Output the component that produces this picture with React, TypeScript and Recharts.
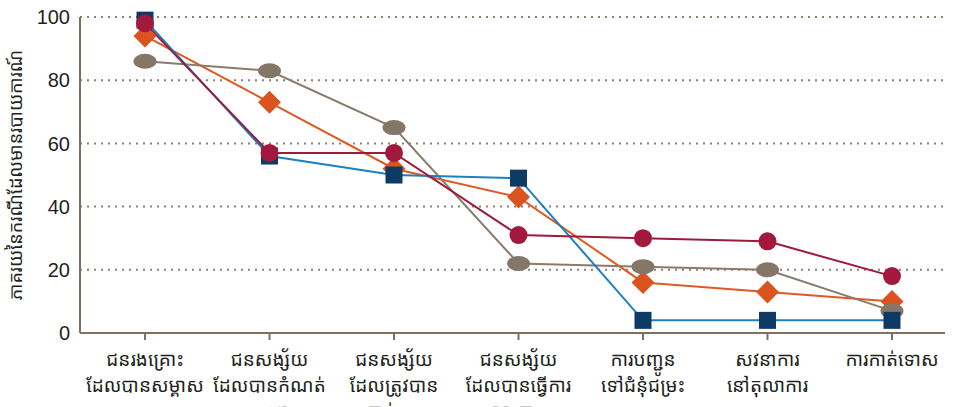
import { LineChart, Line, XAxis, YAxis, CartesianGrid } from "recharts";

const categoriesLine1 = [
  "ជនរងគ្រោះ",
  "ជនសង្ស័យ",
  "ជនសង្ស័យ",
  "ជនសង្ស័យ",
  "ការបញ្ជូន",
  "សវនាការ",
  "ការកាត់ទោស",
];
const categoriesLine2 = [
  "ដែលបានសម្គាស",
  "ដែលបានកំណត់",
  "ដែលត្រូវបាន",
  "ដែលបានធ្វើការ",
  "ទៅជំនុំជម្រះ",
  "នៅតុលាការ",
  "",
];
const categoriesLine3 = ["", "អត្តសញ្ញាណ", "ចាប់ខ្លួន", "សារភាព", "", "", ""];

const squareSeries = [99, 56, 50, 49, 4, 4, 4];
const diamondSeries = [94, 73, 52, 43, 16, 13, 10];
const circleSeries = [98, 57, 57, 31, 30, 29, 18];
const ellipseSeries = [86, 83, 65, 22, 21, 20, 7];

const yTicks = [0, 20, 40, 60, 80, 100];
const yTitle = "ភាគរយនៃករណីដែលមានរបាយការណ៍";

const data = categoriesLine1.map((name, i) => ({
  name,
  line2: categoriesLine2[i],
  line3: categoriesLine3[i],
  square: squareSeries[i],
  diamond: diamondSeries[i],
  circle: circleSeries[i],
  ellipse: ellipseSeries[i],
}));

const axisColor = "#7d7064";
const textColor = "#231f20";
const khmerFont = "'Khmer OS', 'Noto Sans Khmer', 'Noto Sans', sans-serif";

const XTick = (props: any) => {
  const { x, y, payload } = props;
  const row = data[payload.index] || data.find((d) => d.name === payload.value);
  const lines = [payload.value, row ? row.line2 : "", row ? row.line3 : ""];
  return (
    <text
      x={x}
      y={y}
      textAnchor="middle"
      fill={textColor}
      fontSize={19}
      fontFamily={khmerFont}
    >
      {lines.map((l, i) => (
        <tspan key={i} x={x} dy={i === 0 ? 24 : 26}>
          {l}
        </tspan>
      ))}
    </text>
  );
};

const SquareDot = (props: any) => {
  const { cx, cy } = props;
  return <rect x={cx - 8.5} y={cy - 8.5} width={17} height={17} fill="#0e3a66" />;
};

const DiamondDot = (props: any) => {
  const { cx, cy } = props;
  const r = 11.5;
  return (
    <polygon
      points={`${cx},${cy - r} ${cx + r},${cy} ${cx},${cy + r} ${cx - r},${cy}`}
      fill="#d9541f"
    />
  );
};

const CircleDot = (props: any) => {
  const { cx, cy } = props;
  return <circle cx={cx} cy={cy} r={9} fill="#a3193d" />;
};

const EllipseDot = (props: any) => {
  const { cx, cy } = props;
  return <ellipse cx={cx} cy={cy} rx={11.5} ry={7.5} fill="#857767" />;
};

export default function App() {
  return (
    <div style={{ position: "absolute", left: 0, top: 0 }}>
      <LineChart
        width={954}
        height={407}
        data={data}
        margin={{ top: 17, right: 9, left: 0, bottom: 0 }}
      >
        <CartesianGrid
          vertical={false}
          stroke="#8c8073"
          strokeWidth={2}
          strokeDasharray="2 5"
        />
        <XAxis
          dataKey="name"
          height={74}
          padding={{ left: 65, right: 53 }}
          stroke={axisColor}
          strokeWidth={2}
          tickSize={7}
          tick={<XTick />}
          interval={0}
        />
        <YAxis
          domain={[0, 100]}
          ticks={yTicks}
          width={80}
          stroke={axisColor}
          strokeWidth={2}
          tickLine={false}
          tickSize={8}
          tickMargin={2}
          tick={{
            fill: textColor,
            fontSize: 20,
            fontFamily: "'Liberation Sans Narrow', 'Arial Narrow', sans-serif",
          }}
          label={{
            value: yTitle,
            angle: -90,
            position: "insideLeft",
            offset: 16,
            style: {
              textAnchor: "middle",
              fill: textColor,
              fontSize: 18,
              fontFamily: khmerFont,
            },
          }}
        />
        <Line
          dataKey="diamond"
          stroke="#de5a24"
          strokeWidth={2}
          dot={<DiamondDot />}
          isAnimationActive={false}
        />
        <Line
          dataKey="ellipse"
          stroke="#8a7b6c"
          strokeWidth={2}
          dot={<EllipseDot />}
          isAnimationActive={false}
        />
        <Line
          dataKey="square"
          stroke="#1b80c4"
          strokeWidth={2}
          dot={<SquareDot />}
          isAnimationActive={false}
        />
        <Line
          dataKey="circle"
          stroke="#9e1a3c"
          strokeWidth={2}
          dot={<CircleDot />}
          isAnimationActive={false}
        />
      </LineChart>
    </div>
  );
}
